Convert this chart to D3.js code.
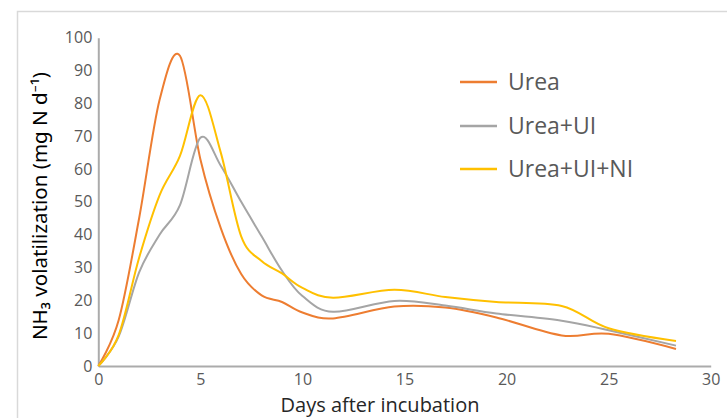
<!DOCTYPE html>
<html><head><meta charset="utf-8">
<script src="https://cdn.jsdelivr.net/npm/d3@7"></script>
<style>html,body{margin:0;padding:0;background:#fff;}svg{display:block;}</style>
</head><body>
<script>
const days = [0, 1, 2, 3, 4, 5, 6, 7, 8, 9, 10, 11.5, 14.5, 17, 19.5, 22.7, 25, 28.3];
const urea     = [0, 14, 45, 81, 94.5, 63, 42, 28, 21.5, 19.5, 16.3, 14.5, 18.1, 17.8, 14.8, 9.3, 9.8, 5.2];
const ureaUI   = [0, 9, 28.5, 40, 49, 69.5, 61, 50, 39.5, 29, 21.3, 16.5, 19.8, 18.4, 16, 13.8, 10.9, 6.2];
const ureaUINI = [0, 9.5, 33, 52, 64, 82.5, 65, 39.5, 32, 28.2, 23.8, 20.8, 23.2, 21, 19.5, 18.3, 11.5, 7.6];
const seriesNames = ["Urea", "Urea+UI", "Urea+UI+NI"];
const seriesColors = ["#ED7D31", "#A5A5A5", "#FFC000"];
const xTicks = [0, 5, 10, 15, 20, 25, 30];
const yTicks = [0, 10, 20, 30, 40, 50, 60, 70, 80, 90, 100];
const xTitle = "Days after incubation";
const yTitle = "NH\u2083 volatilization (mg N d\u207B\u00B9)";

const W = 727, H = 418;
const svg = d3.select("body").append("svg").attr("width", W).attr("height", H);
svg.append("rect").attr("x", 17.5).attr("y", 11.5).attr("width", W + 10).attr("height", H + 10)
  .attr("fill", "none").attr("stroke", "#D9D9D9").attr("stroke-width", 1.5);

const x = d3.scaleLinear().domain([0, 30]).range([98.3, 710.7]);
const y = d3.scaleLinear().domain([0, 100]).range([366, 37.7]);

const xAxis = svg.append("g").attr("transform", `translate(0,${y(0)})`)
  .call(d3.axisBottom(x).tickValues(xTicks).tickSize(0).tickPadding(8));
const yAxis = svg.append("g").attr("transform", `translate(${x(0)},0)`)
  .call(d3.axisLeft(y).tickValues(yTicks).tickSize(0).tickPadding(6));
[xAxis, yAxis].forEach(g => {
  g.select(".domain").attr("stroke", "#ABABAB").attr("stroke-width", 2);
  g.selectAll("text").attr("fill", "#595959").style("font-family", "'Open Sans', sans-serif").style("font-size", "16px");
});

const allSeries = [urea, ureaUI, ureaUINI];
const line = d3.line().x((d, i) => x(days[i])).y(d => y(d)).curve(d3.curveCardinal.tension(0));
allSeries.forEach((s, k) => {
  svg.append("path").datum(s).attr("d", line).attr("fill", "none")
    .attr("stroke", seriesColors[k]).attr("stroke-width", 2);
});

const legY = [82, 126, 169];
seriesNames.forEach((n, k) => {
  svg.append("line").attr("x1", 460).attr("x2", 497).attr("y1", legY[k]).attr("y2", legY[k])
    .attr("stroke", seriesColors[k]).attr("stroke-width", 2.5);
  svg.append("text").attr("x", 508).attr("y", legY[k]).attr("dy", "0.35em").text(n)
    .attr("fill", "#595959").style("font-family", "'Open Sans', sans-serif").style("font-size", "23px");
});

svg.append("text").attr("x", 380).attr("y", 412).attr("text-anchor", "middle").text(xTitle)
  .attr("fill", "#262626").style("font-family", "'Open Sans', sans-serif").style("font-size", "20px");
svg.append("text").attr("transform", "translate(47,206) rotate(-90)").attr("text-anchor", "middle")
  .attr("textLength", 268).attr("lengthAdjust", "spacingAndGlyphs").text(yTitle)
  .attr("fill", "#000").style("font-family", "'Noto Sans', sans-serif").style("font-size", "20px");
</script>
</body></html>
